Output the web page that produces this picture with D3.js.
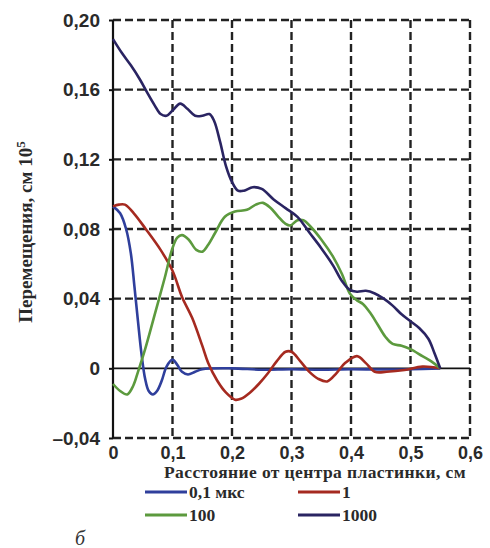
<!DOCTYPE html>
<meta charset="utf-8">
<head>
	<title>Перемещения</title>
	<style>
		body { margin: 0; background: #fff; }
		svg { display: block; font-family: "Liberation Serif", "DejaVu Serif", serif; font-weight: bold; }
		.grid line { stroke: #222; stroke-width: 2.4; stroke-dasharray: 8 4; }
		.tick text { fill: #2a2a2a; }
	</style>
	<script src="https://d3js.org/d3.v7.min.js"></script>
</head>
<body>
<div id="chart"></div>
<script>
// tick values
const xTicks = [0, 0.1, 0.2, 0.3, 0.4, 0.5, 0.6];
const yTicks = [-0.04, 0, 0.04, 0.08, 0.12, 0.16, 0.20];

// series labels and colours
const seriesNames = ['0,1 мкс', '1', '100', '1000'];
const seriesColors = ['#2f3f9c', '#a52a20', '#5c9a3e', '#2a2462'];

// [distance, displacement]
const s01 = [[0,0.093],[0.012,0.089],[0.022,0.080],[0.03,0.066],[0.036,0.047],[0.042,0.027],[0.048,0.008],[0.054,-0.006],
	[0.06,-0.013],[0.067,-0.015],[0.074,-0.013],[0.082,-0.007],[0.09,0.001],[0.1,0.005],[0.108,0.002],[0.116,-0.002],
	[0.126,-0.0035],[0.138,-0.002],[0.15,-0.0005],[0.2,0],[0.25,-0.0008],[0.3,-0.0005],[0.35,-0.0008],[0.4,-0.0005],
	[0.45,-0.0007],[0.5,-0.0005],[0.55,0]];
const s1 = [[0,0.093],[0.01,0.094],[0.02,0.094],[0.035,0.089],[0.055,0.080],[0.08,0.068],[0.1,0.056],[0.116,0.041],
	[0.133,0.029],[0.15,0.013],[0.16,0.003],[0.175,-0.007],[0.19,-0.014],[0.205,-0.018],[0.215,-0.0175],[0.23,-0.014],
	[0.245,-0.009],[0.26,-0.003],[0.275,0.004],[0.29,0.0095],[0.3,0.0095],[0.315,0.004],[0.33,-0.002],[0.345,-0.006],
	[0.36,-0.0075],[0.375,-0.003],[0.39,0.003],[0.41,0.007],[0.425,0.003],[0.44,-0.002],[0.46,-0.002],[0.49,-0.001],
	[0.52,0.001],[0.55,0]];
const s100 = [[0,-0.009],[0.012,-0.013],[0.024,-0.015],[0.034,-0.010],[0.042,-0.002],[0.054,0.011],[0.071,0.032],
	[0.087,0.052],[0.099,0.068],[0.108,0.075],[0.116,0.0765],[0.127,0.074],[0.14,0.068],[0.15,0.067],[0.16,0.071],
	[0.172,0.078],[0.188,0.087],[0.205,0.090],[0.225,0.091],[0.24,0.094],[0.252,0.095],[0.265,0.092],[0.278,0.087],
	[0.29,0.083],[0.298,0.082],[0.31,0.085],[0.32,0.085],[0.333,0.081],[0.35,0.074],[0.37,0.064],[0.385,0.054],
	[0.398,0.043],[0.41,0.039],[0.42,0.037],[0.432,0.032],[0.445,0.025],[0.458,0.018],[0.47,0.014],[0.485,0.013],
	[0.5,0.011],[0.52,0.007],[0.535,0.004],[0.55,0]];
const s1000 = [[0,0.189],[0.015,0.181],[0.03,0.174],[0.045,0.166],[0.058,0.158],[0.07,0.151],[0.08,0.146],[0.09,0.145],
	[0.1,0.148],[0.113,0.152],[0.125,0.149],[0.138,0.145],[0.15,0.145],[0.162,0.146],[0.17,0.142],[0.18,0.130],
	[0.19,0.116],[0.2,0.107],[0.21,0.102],[0.22,0.102],[0.235,0.104],[0.25,0.103],[0.27,0.097],[0.29,0.092],
	[0.31,0.087],[0.33,0.078],[0.35,0.069],[0.37,0.059],[0.385,0.050],[0.398,0.045],[0.41,0.044],[0.425,0.0445],
	[0.44,0.043],[0.455,0.040],[0.47,0.036],[0.485,0.031],[0.5,0.027],[0.515,0.023],[0.53,0.017],[0.54,0.009],[0.55,0]];
const seriesData = [s01, s1, s100, s1000];

const W = 490, H = 548;
const m = {left: 113, top: 20, right: 20, bottom: 110};

const svg = d3.select('#chart').append('svg').attr('width', W).attr('height', H);

const x = d3.scaleLinear().domain([0, 0.6]).range([m.left, W - m.right]);
const y = d3.scaleLinear().domain([-0.04, 0.20]).range([H - m.bottom, m.top]);

const fmt = (d, n) => d === 0 ? '0' : d3.format('.' + n + 'f')(d).replace('.', ',').replace('-', '–').replace('−', '–');

// dashed grid (incl. frame top/right/bottom)
const grid = svg.append('g').attr('class', 'grid');
grid.selectAll('.gx').data(xTicks.filter(d => d > 0)).join('line')
	.attr('x1', d => x(d)).attr('x2', d => x(d)).attr('y1', y(0.20)).attr('y2', y(-0.04));
grid.selectAll('.gy').data(yTicks.filter(d => d !== 0)).join('line')
	.attr('x1', x(0)).attr('x2', x(0.6)).attr('y1', d => y(d)).attr('y2', d => y(d));

// y axis
const yAxis = svg.append('g').attr('transform', `translate(${x(0)},0)`)
	.call(d3.axisLeft(y).tickValues(yTicks).tickSize(4).tickPadding(9).tickFormat(d => fmt(d, 2)));
yAxis.select('.domain').attr('stroke', '#111').attr('stroke-width', 2.2).attr('d', `M0,${y(0.20)}V${y(-0.04)}`);
yAxis.selectAll('.tick line').attr('stroke', '#111').attr('stroke-width', 2);
yAxis.selectAll('.tick text').attr('font-size', 19).attr('font-family', null);

// x axis labels
const xAxis = svg.append('g').attr('transform', `translate(0,${y(-0.04)})`)
	.call(d3.axisBottom(x).tickValues(xTicks).tickSize(0).tickPadding(8).tickFormat(d => fmt(d, 1)));
xAxis.select('.domain').remove();
xAxis.selectAll('.tick text').attr('font-size', 18).attr('font-family', null);

// zero line
svg.append('line').attr('x1', x(0)).attr('x2', x(0.6)).attr('y1', y(0)).attr('y2', y(0))
	.attr('stroke', '#111').attr('stroke-width', 1.8);

// curves
const line = d3.line().x(d => x(d[0])).y(d => y(d[1])).curve(d3.curveCatmullRom.alpha(0.5));
svg.append('g').selectAll('path').data(seriesData).join('path')
	.attr('d', line).attr('fill', 'none')
	.attr('stroke', (d, i) => seriesColors[i]).attr('stroke-width', 2.6);

// axis titles
svg.append('text').attr('x', 315).attr('y', 478).attr('text-anchor', 'middle')
	.attr('font-size', 17.5).attr('letter-spacing', 0.4).attr('fill', '#2a2a2a').text('Расстояние от центра пластинки, см');
const yt = svg.append('text').attr('transform', 'translate(32,232) rotate(-90)').attr('text-anchor', 'middle')
	.attr('font-size', 19).attr('fill', '#2a2a2a');
yt.append('tspan').text('Перемещения, см 10');
yt.append('tspan').attr('dy', -7).attr('font-size', 13).text('5');

// legend
const legend = svg.append('g').selectAll('g').data(seriesNames).join('g')
	.attr('transform', (d, i) => `translate(${i % 2 ? 298 : 145},${i < 2 ? 492 : 515})`);
legend.append('line').attr('x1', 0).attr('x2', 42).attr('y1', 0).attr('y2', 0)
	.attr('stroke', (d, i) => seriesColors[i]).attr('stroke-width', 3);
legend.append('text').attr('x', 44).attr('y', 6)
	.attr('font-size', 17.5).attr('fill', '#2a2a2a').text(d => d);

svg.append('text').attr('x', 75).attr('y', 545).attr('font-size', 20).attr('font-style', 'italic')
	.attr('font-weight', 'normal').attr('fill', '#333').text('б');
</script>
</body>
